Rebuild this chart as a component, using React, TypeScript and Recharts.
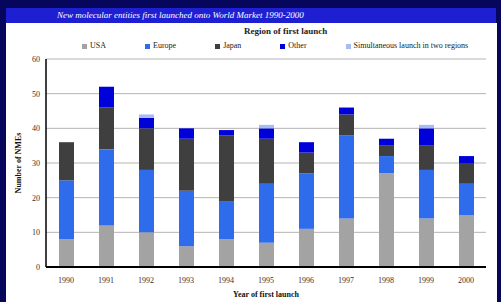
import { BarChart, Bar, CartesianGrid, XAxis, YAxis, Legend } from "recharts";

const years = ["1990", "1991", "1992", "1993", "1994", "1995", "1996", "1997", "1998", "1999", "2000"];
const usa = [8, 12, 10, 6, 8, 7, 11, 14, 27, 14, 15];
const europe = [17, 22, 18, 16, 11, 17, 16, 24, 5, 14, 9];
const japan = [11, 12, 12, 15, 19, 13, 6, 6, 3, 7, 6];
const other = [0, 6, 3, 3, 1.5, 3, 3, 2, 2, 5, 2];
const simultaneous = [0, 0, 1, 0, 0, 1, 0, 0, 0, 1, 0];
const yTicks = [0, 10, 20, 30, 40, 50, 60];

const series = [
  { key: "usa", label: "USA", color: "#a3a3a3" },
  { key: "europe", label: "Europe", color: "#2f6cec" },
  { key: "japan", label: "Japan", color: "#3f3f3f" },
  { key: "other", label: "Other", color: "#0000d8" },
  { key: "simultaneous", label: "Simultaneous launch in two regions", color: "#a8bcf4" },
];

const data = years.map((year, i) => ({
  year,
  usa: usa[i],
  europe: europe[i],
  japan: japan[i],
  other: other[i],
  simultaneous: simultaneous[i],
}));

const font = "'Liberation Serif', 'Times New Roman', serif";

function LegendBox() {
  return (
    <div style={{ height: 33, fontFamily: font, color: "#222" }}>
      <div style={{ fontSize: 9, fontWeight: "bold", lineHeight: "10px", paddingLeft: 238, whiteSpace: "nowrap" }}>
        Region of first launch
      </div>
      <div style={{ display: "flex", marginTop: 5, paddingLeft: 76, gap: 39, fontSize: 8, lineHeight: "10px" }}>
        {series.map((s) => (
          <div key={s.key} style={{ display: "flex", alignItems: "center", whiteSpace: "nowrap", fontFamily: font }}>
            <span style={{ width: 5, height: 5, background: s.color, marginRight: 3, display: "inline-block" }} />
            {s.label}
          </div>
        ))}
      </div>
    </div>
  );
}

export default function App() {
  return (
    <div style={{ position: "absolute", left: 0, top: 0, width: 501, height: 302, background: "#06065c", overflow: "hidden" }}>
      <div
        style={{
          position: "absolute",
          left: 6,
          top: 8,
          width: 490,
          height: 15,
          background: "#1f1fd2",
          color: "#fff",
          fontFamily: font,
          fontStyle: "italic",
          fontSize: 9,
          lineHeight: "15px",
          paddingLeft: 51,
          boxSizing: "border-box",
        }}
      >
        New molecular entities first launched onto World Market 1990-2000
      </div>
      <div style={{ position: "absolute", left: 6, top: 23, width: 491, height: 279, background: "#fff" }}>
        <BarChart width={491} height={279} data={data} margin={{ top: 3, right: 11, left: 0, bottom: 5 }}>
          <Legend verticalAlign="top" wrapperStyle={{ left: 0, width: 491 }} content={() => <LegendBox />} />
          <CartesianGrid vertical={false} stroke="#b4b4b4" strokeWidth={1} />
          <XAxis
            dataKey="year"
            height={30}
            tickLine={false}
            tickSize={0}
            tickMargin={10}
            axisLine={{ stroke: "#000", strokeWidth: 2 }}
            tick={{ fontSize: 8, fill: "#333", fontFamily: font }}
            label={{ value: "Year of first launch", position: "insideBottom", offset: 0, style: { fontSize: 8, fontWeight: "bold", fill: "#111", fontFamily: font } }}
          />
          <YAxis
            width={40}
            domain={[0, 60]}
            ticks={yTicks}
            tickLine={false}
            tickSize={0}
            tickMargin={6}
            axisLine={{ stroke: "#000", strokeWidth: 1.5 }}
            tick={{ fontSize: 8, fill: "#333", fontFamily: font }}
            label={{ value: "Number of NMEs", angle: -90, position: "insideLeft", offset: 12, style: { textAnchor: "middle", fontSize: 8, fontWeight: "bold", fill: "#111", fontFamily: font } }}
          />
          {series.map((s) => (
            <Bar key={s.key} dataKey={s.key} name={s.label} stackId="a" fill={s.color} barSize={15} isAnimationActive={false} />
          ))}
        </BarChart>
      </div>
    </div>
  );
}
